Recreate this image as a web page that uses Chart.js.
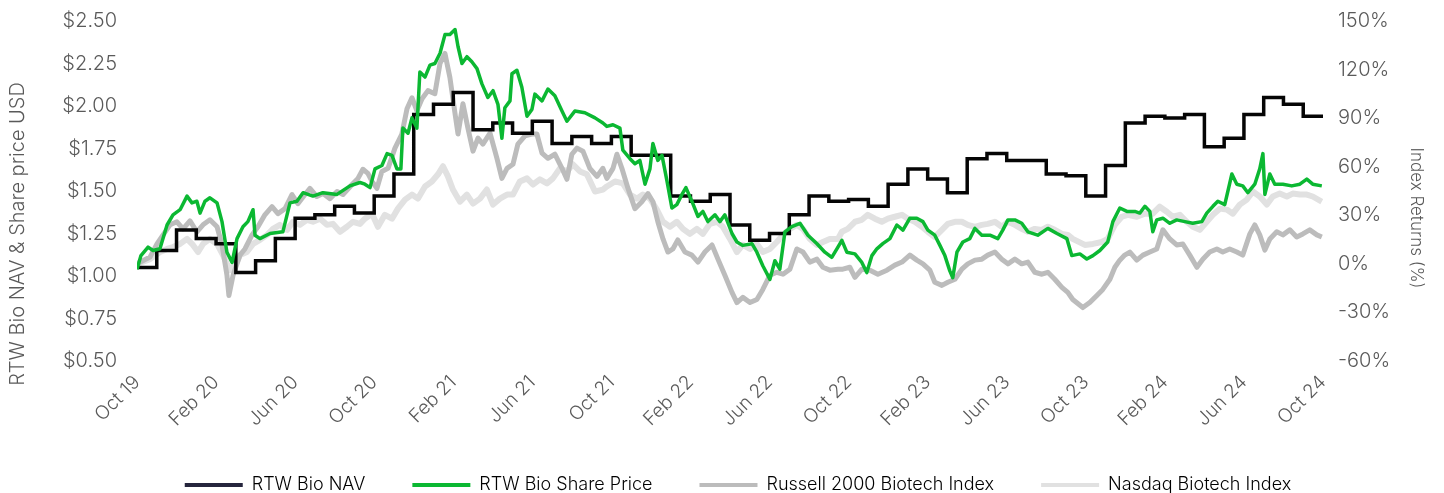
<!DOCTYPE html>
<html>
<head>
<meta charset="utf-8">
<script src="https://cdn.jsdelivr.net/npm/chart.js@4.4.1/dist/chart.umd.min.js"></script>
<style>
  html, body { margin: 0; padding: 0; background: #fff; overflow: hidden; }
  #wrap { width: 1444px; height: 504px; position: relative; }
</style>
</head>
<body>
<div id="wrap"><canvas id="rtwChart"></canvas></div>
<script>
// x = months since end of Oct 2019
const tickLabels = ['Oct 19', 'Feb 20', 'Jun 20', 'Oct 20', 'Feb 21', 'Jun 21', 'Oct 21', 'Feb 22',
  'Jun 22', 'Oct 22', 'Feb 23', 'Jun 23', 'Oct 23', 'Feb 24', 'Jun 24', 'Oct 24'];

// monthly NAV (USD), one value per month 0..60
const navValues = [1.05, 1.15, 1.27, 1.22, 1.19, 1.02, 1.09, 1.22, 1.34, 1.36,
  1.41, 1.37, 1.47, 1.60, 1.95, 2.01, 2.08, 1.86, 1.90, 1.84,
  1.91, 1.78, 1.82, 1.78, 1.82, 1.71, 1.71, 1.47, 1.44, 1.48,
  1.30, 1.21, 1.25, 1.36, 1.47, 1.44, 1.45, 1.41, 1.54, 1.63,
  1.57, 1.49, 1.69, 1.72, 1.68, 1.68, 1.60, 1.59, 1.47, 1.65,
  1.90, 1.94, 1.93, 1.95, 1.76, 1.81, 1.95, 2.05, 2.01, 1.94, 1.93];

// share price (USD)
const shareMonths = [0, 0.2, 0.56, 0.81, 1.16, 1.52, 1.82, 2.18, 2.53, 2.78, 3.03, 3.19, 3.44, 3.69, 4.05, 4.3, 4.55, 4.81,
  5.06, 5.36, 5.61, 5.87, 5.97, 6.22, 6.73, 7.38, 7.74, 8.09, 8.4, 8.9, 9.41, 10.12, 10.77, 11.28, 11.53, 11.79,
  12.04, 12.39, 12.65, 12.9, 13.15, 13.35, 13.45, 13.71, 13.91, 14.16, 14.31, 14.57, 14.82, 15.07, 15.33, 15.58,
  15.83, 16.09, 16.24, 16.44, 16.69, 16.94, 17.2, 17.45, 17.75, 18.01, 18.26, 18.46, 18.61, 18.87, 18.97, 19.22,
  19.47, 19.73, 19.98, 20.13, 20.49, 20.79, 21.14, 21.5, 21.75, 22.15, 22.66, 23.17, 23.57, 23.77, 24.08, 24.43,
  24.58, 24.94, 25.19, 25.44, 25.7, 25.95, 26.1, 26.35, 26.56, 26.81, 27.06, 27.31, 27.57, 27.77, 28.07, 28.38,
  28.63, 28.88, 29.24, 29.49, 29.74, 30.1, 30.35, 30.65, 31.11, 31.36, 31.66, 32.02, 32.27, 32.52, 32.78, 33.13,
  33.54, 33.94, 34.4, 34.8, 35.15, 35.46, 35.66, 35.91, 36.32, 36.67, 36.92, 37.18, 37.43, 37.73, 38.09, 38.44,
  38.75, 39.1, 39.45, 39.76, 40.01, 40.36, 40.62, 40.87, 41.12, 41.27, 41.48, 41.78, 42.13, 42.39, 42.74, 43.15,
  43.55, 43.8, 44.06, 44.41, 44.76, 45.07, 45.57, 46.08, 46.54, 47.04, 47.29, 47.7, 48.05, 48.36, 48.71, 49.11,
  49.37, 49.72, 50.08, 50.48, 50.73, 50.99, 51.24, 51.39, 51.59, 51.9, 52.25, 52.6, 53.01, 53.41, 53.87, 54.12,
  54.43, 54.68, 55.03, 55.39, 55.64, 55.94, 56.2, 56.55, 56.8, 56.96, 57.06, 57.31, 57.56, 57.97, 58.42, 58.83,
  59.18, 59.48, 59.94];
const shareValues = [1.04, 1.12, 1.17, 1.15, 1.16, 1.30, 1.36, 1.39, 1.47, 1.43, 1.44, 1.37, 1.44, 1.46, 1.43, 1.32, 1.14, 1.08,
  1.22, 1.29, 1.32, 1.39, 1.24, 1.22, 1.25, 1.26, 1.43, 1.44, 1.49, 1.47, 1.49, 1.48, 1.53, 1.55, 1.54, 1.52,
  1.63, 1.65, 1.72, 1.71, 1.63, 1.63, 1.87, 1.84, 1.93, 1.87, 2.20, 2.17, 2.24, 2.25, 2.31, 2.42,
  2.42, 2.45, 2.35, 2.25, 2.29, 2.26, 2.22, 2.13, 2.05, 2.09, 2.01, 1.81, 1.99, 2.03, 2.19, 2.21,
  2.11, 1.94, 1.98, 2.07, 2.03, 2.10, 2.06, 1.97, 1.91, 1.97, 1.96, 1.93, 1.90, 1.88, 1.89, 1.87,
  1.74, 1.69, 1.66, 1.68, 1.54, 1.63, 1.78, 1.68, 1.71, 1.56, 1.40, 1.42, 1.48, 1.52, 1.44, 1.35,
  1.38, 1.32, 1.36, 1.32, 1.36, 1.25, 1.20, 1.18, 1.19, 1.14, 1.06, 0.98, 1.09, 1.04, 1.26, 1.29,
  1.31, 1.24, 1.19, 1.14, 1.11, 1.17, 1.21, 1.14, 1.13, 1.08, 1.02, 1.12, 1.16, 1.19, 1.22, 1.30,
  1.27, 1.34, 1.34, 1.32, 1.27, 1.24, 1.18, 1.12, 1.03, 0.99, 1.14, 1.20, 1.22, 1.28, 1.24, 1.24,
  1.22, 1.27, 1.33, 1.33, 1.31, 1.26, 1.24, 1.28, 1.25, 1.22, 1.12, 1.13, 1.10, 1.12, 1.15, 1.20,
  1.32, 1.40, 1.38, 1.38, 1.37, 1.41, 1.38, 1.26, 1.33, 1.34, 1.31, 1.33, 1.32, 1.31, 1.32, 1.37,
  1.41, 1.44, 1.42, 1.60, 1.54, 1.53, 1.49, 1.54, 1.63, 1.72, 1.48, 1.60, 1.54, 1.54, 1.53, 1.54,
  1.57, 1.54, 1.53];

// Russell 2000 Biotech Index return (%)
const russellMonths = [0, 0.66, 1.01, 1.32, 1.67, 2.02, 2.33, 2.68, 3.03, 3.34, 3.69, 4.05, 4.3, 4.55, 4.65, 4.86,
  5.21, 5.46, 5.82, 6.12, 6.47, 6.83, 7.13, 7.49, 7.84, 8.14, 8.5, 8.75, 9.1, 9.41, 9.76, 10.12, 10.42, 10.88,
  11.18, 11.43, 11.68, 11.89, 12.14, 12.39, 12.7, 13.05, 13.4, 13.66, 13.91, 14.16, 14.42, 14.72, 15.07, 15.33,
  15.58, 15.83, 16.09, 16.24, 16.49, 16.74, 17.0, 17.25, 17.5, 17.86, 18.21, 18.46, 18.72, 19.02, 19.27, 19.63,
  19.98, 20.23, 20.49, 20.79, 21.14, 21.5, 21.75, 22.0, 22.26, 22.56, 22.91, 23.27, 23.57, 23.77, 24.08, 24.28,
  24.53, 24.84, 25.19, 25.54, 25.85, 26.1, 26.35, 26.61, 26.86, 27.11, 27.36, 27.72, 28.07, 28.38, 28.73, 29.09,
  29.39, 29.74, 30.1, 30.35, 30.65, 31.01, 31.36, 31.66, 32.02, 32.37, 32.68, 33.03, 33.38, 33.69, 34.04, 34.4,
  34.7, 35.05, 35.46, 35.71, 36.06, 36.32, 36.67, 37.08, 37.48, 37.94, 38.34, 38.7, 39.1, 39.45, 39.76, 40.11,
  40.36, 40.72, 41.02, 41.38, 41.73, 42.03, 42.39, 42.74, 43.04, 43.4, 43.75, 44.06, 44.41, 44.76, 45.07, 45.42,
  45.78, 46.08, 46.43, 46.79, 47.09, 47.34, 47.85, 48.2, 48.56, 48.86, 49.22, 49.47, 49.72, 49.97, 50.23, 50.58,
  50.89, 51.24, 51.59, 51.9, 52.25, 52.6, 52.91, 53.26, 53.62, 53.92, 54.27, 54.63, 54.93, 55.28, 55.64, 55.94,
  56.3, 56.55, 56.8, 57.06, 57.31, 57.66, 57.97, 58.32, 58.67, 58.98, 59.33, 59.69, 59.94];
const russellReturns = [0, 4.2, 12.3, 17.9, 24.1, 26.0, 21.6, 26.6, 19.8, 24.1, 27.2, 22.9, 11.7, -7.0, -19.5, -7.0,
  5.4, 9.2, 17.9, 22.9, 30.3, 35.3, 31.0, 34.1, 42.8, 37.2, 42.8, 46.6, 41.6, 43.4, 40.3, 44.7, 42.8, 49.0,
  52.8, 58.4, 55.9, 50.9, 46.6, 57.1, 59.0, 71.5, 80.2, 95.8, 102.6, 94.5, 102.0, 107.0, 105.1, 123.8,
  130.0, 115.1, 92.7, 80.2, 98.9, 83.9, 69.6, 77.7, 74.0, 80.8, 65.2, 52.8, 59.0, 61.5, 74.0, 79.0,
  80.2, 80.2, 68.4, 65.2, 67.7, 59.0, 52.2, 67.7, 71.5, 69.6, 59.0, 54.0, 59.0, 52.8, 59.0, 67.7,
  59.0, 46.6, 34.1, 38.4, 43.4, 38.4, 26.0, 15.4, 7.3, 9.2, 14.8, 7.3, 5.4, 1.1, 7.3, 11.7,
  2.9, -7.0, -17.6, -23.9, -20.7, -23.9, -22.0, -15.8, -7.0, -5.2, -6.4, -3.3, 9.2, 7.3, 1.1, 2.9,
  -2.1, -3.9, -3.3, -3.3, -2.1, -8.3, -3.3, -3.9, -6.4, -3.9, -0.8, 1.1, 5.4, 2.3, 0, -3.9,
  -11.4, -13.3, -11.4, -9.5, -3.3, 0, 2.3, 2.9, 5.4, 7.3, 2.9, 0, 2.9, 0, 1.1, -5.2,
  -6.4, -5.2, -9.5, -14.5, -17.6, -22.0, -27.0, -23.9, -19.5, -15.8, -9.5, -2.1, 2.3, 5.4, 7.3, 2.3,
  5.4, 7.3, 9.2, 21.0, 15.4, 11.7, 12.3, 5.4, -2.1, 2.9, 7.3, 9.2, 7.3, 9.2, 7.3, 5.4,
  18.5, 24.1, 17.9, 8.5, 15.4, 19.8, 17.9, 21.0, 16.6, 18.5, 21.0, 17.9, 16.6];

// Nasdaq Biotech Index return (%)
const nasdaqMonths = [0, 0.66, 1.16, 1.52, 1.82, 2.18, 2.53, 2.83, 3.09, 3.34, 3.69, 4.05, 4.35, 4.7, 4.96, 5.21,
  5.56, 5.87, 6.22, 6.58, 6.88, 7.23, 7.59, 7.89, 8.24, 8.6, 8.9, 9.26, 9.61, 9.91, 10.27, 10.62, 10.93, 11.28,
  11.53, 11.89, 12.19, 12.54, 12.9, 13.2, 13.56, 13.91, 14.21, 14.57, 14.92, 15.23, 15.48, 15.73, 15.98, 16.34,
  16.69, 17.0, 17.35, 17.7, 18.01, 18.36, 18.72, 19.02, 19.37, 19.73, 20.03, 20.38, 20.74, 21.04, 21.4, 21.75,
  22.05, 22.41, 22.76, 23.17, 23.57, 23.77, 24.18, 24.58, 24.94, 25.29, 25.59, 25.95, 26.3, 26.61, 26.96, 27.31,
  27.62, 27.97, 28.32, 28.63, 28.98, 29.34, 29.64, 30.0, 30.35, 30.65, 31.01, 31.36, 31.66, 32.02, 32.37, 32.68,
  33.03, 33.38, 33.69, 34.04, 34.4, 34.7, 35.05, 35.46, 35.66, 35.96, 36.32, 36.67, 36.97, 37.33, 37.68, 37.99,
  38.34, 38.7, 39.0, 39.35, 39.71, 40.01, 40.36, 40.72, 41.02, 41.38, 41.73, 42.03, 42.39, 42.74, 43.04, 43.4,
  43.75, 44.06, 44.41, 44.76, 45.07, 45.42, 45.78, 46.08, 46.43, 46.79, 47.09, 47.34, 47.95, 48.36, 48.81, 49.11,
  49.47, 49.82, 50.13, 50.58, 50.99, 51.39, 51.74, 52.1, 52.4, 52.76, 53.11, 53.41, 53.77, 54.12, 54.43, 54.78,
  55.13, 55.44, 55.79, 56.15, 56.45, 56.8, 57.16, 57.46, 57.81, 58.17, 58.47, 58.83, 59.18, 59.48, 59.94];
const nasdaqReturns = [0, 2.9, 7.3, 9.2, 10.4, 12.3, 15.4, 11.7, 7.3, 12.3, 15.4, 12.3, 5.4, -3.9, -0.8, 5.4,
  7.3, 12.3, 14.8, 17.9, 21.6, 24.1, 21.0, 26.0, 24.1, 27.2, 26.0, 27.9, 24.1, 24.7, 19.8, 22.9, 26.0, 24.7,
  27.9, 31.0, 22.9, 30.3, 27.9, 34.1, 39.7, 42.8, 40.3, 47.8, 50.9, 55.3, 60.3, 54.0, 45.9, 38.4,
  42.8, 37.2, 40.3, 45.9, 36.6, 40.3, 42.8, 42.8, 50.9, 52.8, 49.0, 52.2, 49.7, 52.8, 59.0, 57.1,
  61.5, 57.1, 55.3, 44.7, 45.9, 47.8, 50.9, 49.7, 42.8, 40.3, 42.8, 40.3, 33.5, 26.0, 22.9, 26.0,
  21.6, 18.5, 21.6, 18.5, 24.7, 26.0, 22.9, 15.4, 7.3, 11.7, 9.2, 12.3, 7.3, 9.2, 13.5, 17.9,
  21.6, 24.1, 21.6, 15.4, 11.7, 13.5, 15.4, 15.4, 19.8, 21.6, 26.0, 27.2, 30.3, 27.9, 26.0, 27.9,
  29.1, 30.3, 27.9, 26.0, 22.9, 19.8, 16.6, 21.0, 24.7, 26.0, 26.0, 24.1, 22.9, 24.1, 24.7, 26.0,
  22.9, 26.0, 24.1, 21.6, 19.8, 21.6, 21.0, 22.9, 21.0, 18.5, 17.9, 15.4, 11.7, 12.3, 13.5, 15.4,
  24.1, 29.1, 30.3, 29.1, 31.0, 31.0, 35.3, 32.2, 29.1, 30.3, 26.0, 22.9, 21.0, 26.0, 30.3, 34.1,
  33.5, 31.0, 36.6, 39.7, 44.7, 41.6, 36.6, 41.6, 43.4, 41.6, 43.4, 42.8, 42.8, 41.6, 38.4];

const seriesNames = ['RTW Bio NAV', 'RTW Bio Share Price', 'Russell 2000 Biotech Index', 'Nasdaq Biotech Index'];
const lineColors = ['#050505', '#0bb832', '#bcbcbc', '#e1e1e1'];
const legendColors = ['#25253d', '#0bb832', '#bcbcbc', '#e1e1e1'];

const FONT = 'Inter, "Liberation Sans", sans-serif';
const TEXT = '#5a5a5a';

function points(xs, ys) {
  return ys.map((y, i) => ({ x: xs[i], y: y }));
}

// axis titles drawn by hand so they sit where the original has them
const axisTitles = {
  id: 'axisTitles',
  afterDraw(chart) {
    const ctx = chart.ctx;
    ctx.save();
    ctx.fillStyle = TEXT;
    ctx.textAlign = 'center';
    ctx.textBaseline = 'middle';
    ctx.font = '300 20px ' + FONT;
    ctx.translate(18, 234);
    ctx.rotate(-Math.PI / 2);
    ctx.fillText('RTW Bio NAV & Share price USD', 0, 0);
    ctx.restore();

    ctx.save();
    ctx.fillStyle = TEXT;
    ctx.textAlign = 'center';
    ctx.textBaseline = 'middle';
    ctx.font = '300 17px ' + FONT;
    ctx.translate(1416, 218);
    ctx.rotate(Math.PI / 2);
    ctx.fillText('Index Returns (%)', 0, 0);
    ctx.restore();
  }
};

// y axes: fixed width, and no extra label padding pushing the plot down
function fixY(width) {
  return function (s) {
    s.width = width;
    s.paddingTop = 0;
    s.paddingBottom = 0;
  };
}

const ctx = document.getElementById('rtwChart').getContext('2d');
new Chart(ctx, {
  type: 'line',
  data: {
    datasets: [
      {
        label: seriesNames[0],
        data: points(navValues.map((v, i) => i), navValues),
        yAxisID: 'y',
        stepped: true,
        borderColor: lineColors[0],
        borderWidth: 3.5,
        order: 1
      },
      {
        label: seriesNames[1],
        data: points(shareMonths, shareValues),
        yAxisID: 'y',
        borderColor: lineColors[1],
        borderWidth: 3.5,
        borderJoinStyle: 'round',
        order: 0
      },
      {
        label: seriesNames[2],
        data: points(russellMonths, russellReturns),
        yAxisID: 'y1',
        borderColor: lineColors[2],
        borderWidth: 5,
        borderJoinStyle: 'round',
        order: 2
      },
      {
        label: seriesNames[3],
        data: points(nasdaqMonths, nasdaqReturns),
        yAxisID: 'y1',
        borderColor: lineColors[3],
        borderWidth: 6,
        borderJoinStyle: 'round',
        order: 3
      }
    ]
  },
  options: {
    responsive: true,
    maintainAspectRatio: false,
    animation: false,
    layout: { autoPadding: false, padding: { top: 21, right: 0, left: 32, bottom: 0 } },
    elements: { point: { radius: 0, hoverRadius: 0 }, line: { tension: 0 } },
    plugins: {
      tooltip: { enabled: false },
      legend: {
        position: 'bottom',
        labels: {
          boxWidth: 58,
          boxHeight: 4,
          padding: 47,
          color: TEXT,
          font: { family: FONT, size: 18, weight: 300 },
          generateLabels(chart) {
            return chart.data.datasets.map((ds, i) => ({
              text: ds.label,
              fillStyle: legendColors[i],
              strokeStyle: legendColors[i],
              lineWidth: 0,
              hidden: false,
              datasetIndex: i
            }));
          }
        }
      }
    },
    scales: {
      x: {
        type: 'linear',
        min: 0,
        max: 60,
        grid: { display: false, drawTicks: false },
        border: { display: false },
        ticks: {
          stepSize: 4,
          autoSkip: false,
          minRotation: 45,
          maxRotation: 45,
          padding: 10,
          color: TEXT,
          font: { family: FONT, size: 19, weight: 300 },
          callback: v => tickLabels[Math.round(v / 4)]
        },
        afterFit(s) {
          s.height = s.chart.height - 361 - s.chart.legend.height;
        }
      },
      y: {
        position: 'left',
        min: 0.5,
        max: 2.5,
        grid: { display: false, drawTicks: false },
        border: { display: false },
        ticks: {
          stepSize: 0.25,
          padding: 20,
          color: TEXT,
          font: { family: FONT, size: 20, weight: 300 },
          callback: v => '$' + v.toFixed(2)
        },
        afterFit: fixY(105)
      },
      y1: {
        position: 'right',
        min: -60,
        max: 150,
        grid: { display: false, drawTicks: false },
        border: { display: false },
        ticks: {
          stepSize: 30,
          padding: 15,
          color: TEXT,
          font: { family: FONT, size: 20, weight: 300 },
          callback: v => v + '%'
        },
        afterFit: fixY(121)
      }
    }
  },
  plugins: [axisTitles]
});
</script>
</body>
</html>
